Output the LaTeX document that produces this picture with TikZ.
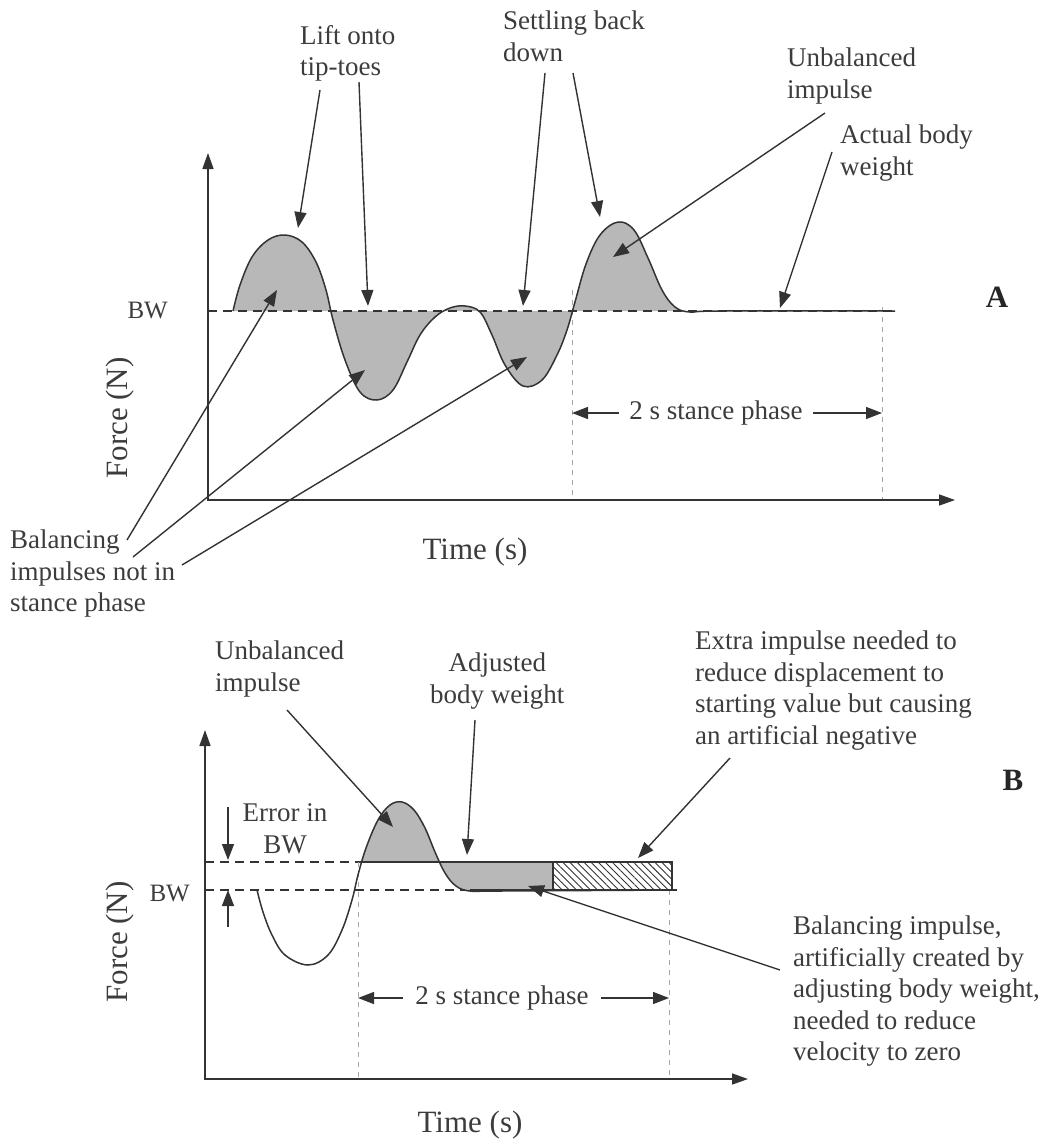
\documentclass[tikz,border=0pt]{standalone}
\usepackage{fontspec}
\setmainfont{Liberation Serif}
\usetikzlibrary{arrows.meta,positioning,patterns.meta}
\definecolor{ink}{HTML}{333333}
\definecolor{txt}{HTML}{3C3C3C}
\definecolor{shade}{HTML}{B8B8B8}
\tikzstyle{lbl} = [inner sep=0pt, align=left, text=txt, font=\fontsize{27}{31.5}\selectfont, anchor=north west]
\tikzstyle{axlbl} = [inner sep=0pt, text=txt, font=\fontsize{31}{36}\selectfont]
\tikzstyle{bwlbl} = [inner sep=0pt, text=txt, font=\fontsize{25}{29}\selectfont, anchor=east]
\tikzstyle{paneltag} = [inner sep=0pt, text=black!85, font=\fontsize{31}{36}\selectfont\bfseries]
\tikzstyle{axisline} = [line width=1.6pt, {Triangle[length=16pt,width=11pt]}-{Triangle[length=16pt,width=11pt]}, draw=ink]
\tikzstyle{ptr} = [line width=1.4pt, -{Triangle[length=16pt,width=12pt]}, draw=ink]
\tikzstyle{bwline} = [dash pattern=on 9pt off 6pt, line width=1.3pt, draw=ink]
\tikzstyle{stancegap} = [dash pattern=on 5pt off 5pt, line width=0.9pt, draw=gray!70]
\tikzstyle{fcurve} = [line width=1.5pt, draw=ink]
\tikzstyle{impulse} = [fill=shade]

\begin{document}
\begin{tikzpicture}[x=1pt,y=-1pt]
    \useasboundingbox (0,0) rectangle (1044,1148);

    % panel A
    \def\curveA{plot[smooth,tension=0.6] coordinates {(233,311) (240,285) (252,257) (268,240) (285,235) (302,242) (316,262) (326,290) (333,320) (345,360) (360,392) (377,400) (393,390) (407,362) (420,335) (435,317) (450,308) (465,306) (480,312) (492,335) (505,365) (523,386) (542,380) (557,355) (567,330) (575,302) (586,264) (600,235) (618,222) (634,230) (648,258) (662,290) (675,307) (690,312) (720,311) (895,311)}}
    \coordinate (oA) at (208,500);
    \coordinate (yA) at (208,153);
    \coordinate (xA) at (955,500);
    \coordinate (sAl) at (572,413);
    \coordinate (sAr) at (882,413);

    \fill[impulse] \curveA -- cycle;
    \draw[bwline] (208,311) -- (895,311);
    \draw[stancegap] (572,290) -- (572,500);
    \draw[stancegap] (882,307) -- (882,500);
    \draw[axisline] (yA) -- (oA) -- (xA);
    \draw[fcurve] \curveA;

    \node[lbl] (lift) at (300,25) {Lift onto\\tip-toes};
    \node[lbl] (settle) at (503,11) {Settling back\\down};
    \node[lbl] (unbalA) at (787,48) {Unbalanced\\impulse};
    \node[lbl] (actual) at (840,125) {Actual body\\weight};
    \node[lbl] (balA) at (10,530) {Balancing\\impulses not in\\stance phase};
    \node[bwlbl] (bwA) at (168,311) {BW};
    \node[axlbl, rotate=90] (forceA) at (120,418) {Force (N)};
    \node[axlbl] (timeA) at (475,552) {Time (s)};
    \node[paneltag] (tagA) at (997,297) {A};
    \node[lbl, anchor=center, inner sep=10pt] (stA) at (716,413) {2 s stance phase};

    \coordinate (liftS1) at (320,90);   \coordinate (liftT1) at (298,228);
    \coordinate (liftS2) at (359,82);   \coordinate (liftT2) at (368,306);
    \coordinate (setS1) at (545,73);    \coordinate (setT1) at (523,306);
    \coordinate (setS2) at (573,73);    \coordinate (setT2) at (600,217);
    \coordinate (unbS) at (825,113);    \coordinate (unbT) at (613,257);
    \coordinate (actS) at (832,152);    \coordinate (actT) at (780,308);
    \coordinate (balS1) at (127,540);   \coordinate (balT1) at (277,290);
    \coordinate (balS2) at (133,557);   \coordinate (balT2) at (365,370);
    \coordinate (balS3) at (182,565);   \coordinate (balT3) at (527,357);

    \draw[ptr] (liftS1) -- (liftT1);
    \draw[ptr] (liftS2) -- (liftT2);
    \draw[ptr] (setS1) -- (setT1);
    \draw[ptr] (setS2) -- (setT2);
    \draw[ptr] (unbS) -- (unbT);
    \draw[ptr] (actS) -- (actT);
    \draw[ptr] (balS1) -- (balT1);
    \draw[ptr] (balS2) -- (balT2);
    \draw[ptr] (balS3) -- (balT3);
    \draw[ptr] (stA) -- (sAl);
    \draw[ptr] (stA) -- (sAr);

    % panel B
    \def\curveB{plot[smooth,tension=0.6] coordinates {(257,890) (263,912) (272,935) (285,955) (308,965) (328,955) (342,930) (352,900) (358,875) (366,848) (378,820) (390,805) (402,802) (414,810) (425,828) (435,852) (445,873) (456,886) (470,891) (500,891) (675,890)}}
    \coordinate (oB) at (205,1079);
    \coordinate (yB) at (205,730);
    \coordinate (xB) at (748,1079);
    \coordinate (sBl) at (358,998);
    \coordinate (sBr) at (669,998);

    \begin{scope}
        \clip (362,780) rectangle (553,895);
        \fill[impulse] \curveB -- (675,862) -- (257,862) -- cycle;
    \end{scope}
    \fill[pattern={Lines[angle=-45,distance=5pt,line width=0.9pt]}, pattern color=ink] (553,862) rectangle (672,890);
    \draw[line width=1.2pt, draw=ink] (553,862) rectangle (672,890);
    \draw[bwline] (205,862) -- (362,862);
    \draw[bwline] (205,890) -- (465,890);
    \draw[stancegap] (358,862) -- (358,1079);
    \draw[stancegap] (669,890) -- (669,1079);
    \draw[axisline] (yB) -- (oB) -- (xB);
    \draw[fcurve] (362,862) -- (672,862);
    \draw[fcurve] \curveB;
    \draw[fcurve] (470,890) -- (677,890);

    \node[lbl] (unbalB) at (215,641) {Unbalanced\\impulse};
    \node[lbl, align=center] (adjusted) at (430,653) {Adjusted\\body weight};
    \node[lbl] (extra) at (695,631) {Extra impulse needed to\\reduce displacement to\\starting value but causing\\an artificial negative};
    \node[lbl] (balB) at (793,916) {Balancing impulse,\\artificially created by\\adjusting body weight,\\needed to reduce\\velocity to zero};
    \node[lbl, anchor=center, align=center] (errbw) at (285,829) {Error in\\BW};
    \node[bwlbl] (bwB) at (190,893) {BW};
    \node[axlbl, rotate=90] (forceB) at (120,942) {Force (N)};
    \node[axlbl] (timeB) at (470,1125) {Time (s)};
    \node[paneltag] (tagB) at (1013,780) {B};
    \node[lbl, anchor=center, inner sep=12pt] (stB) at (502,998) {2 s stance phase};

    \coordinate (ubS) at (287,710);     \coordinate (ubT) at (393,827);
    \coordinate (adjS) at (475,720);    \coordinate (adjT) at (467,855);
    \coordinate (exS) at (730,758);     \coordinate (exT) at (638,858);
    \coordinate (bbS) at (780,970);     \coordinate (bbT) at (528,886);
    \coordinate (erS1) at (228,807);    \coordinate (erT1) at (228,860);
    \coordinate (erS2) at (228,927);    \coordinate (erT2) at (228,890);

    \draw[ptr] (ubS) -- (ubT);
    \draw[ptr] (adjS) -- (adjT);
    \draw[ptr] (exS) -- (exT);
    \draw[ptr] (bbS) -- (bbT);
    \draw[ptr] (erS1) -- (erT1);
    \draw[ptr] (erS2) -- (erT2);
    \draw[ptr] (stB) -- (sBl);
    \draw[ptr] (stB) -- (sBr);
\end{tikzpicture}
\end{document}
